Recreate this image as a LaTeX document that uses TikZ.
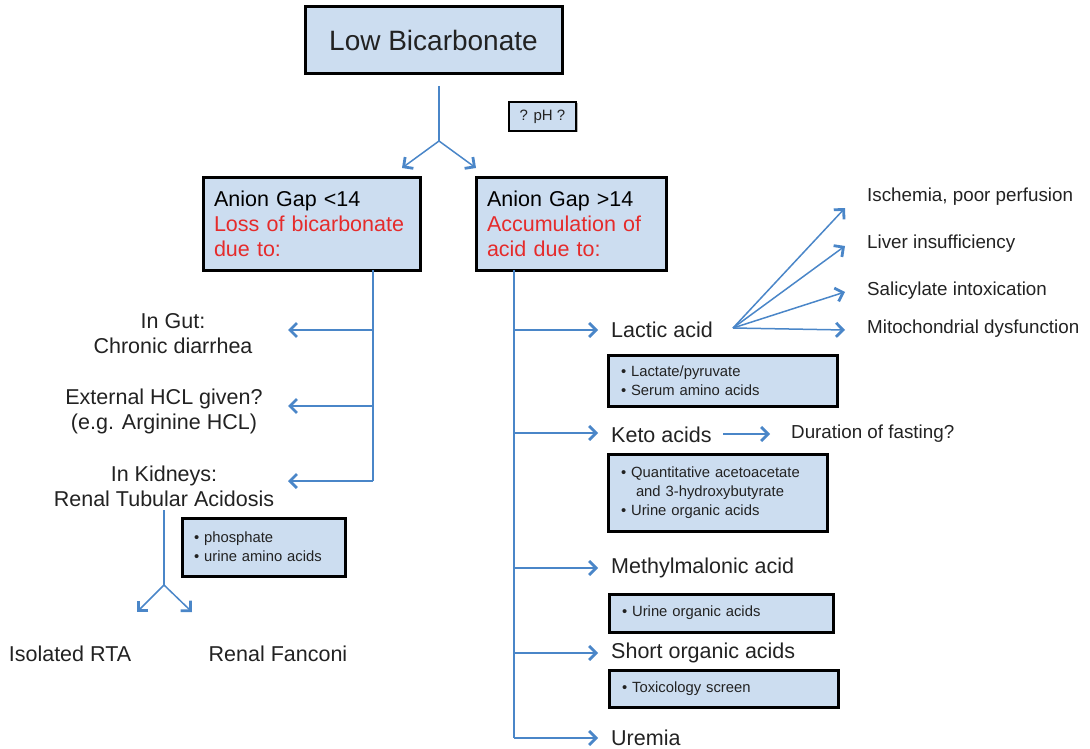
\documentclass[tikz,border=0pt]{standalone}
\usepackage{fontspec}
\setmainfont{Liberation Sans}
\usetikzlibrary{arrows.meta,shadows}
\definecolor{fillb}{HTML}{CCDDF0}
\definecolor{lnb}{HTML}{4A86C8}
\definecolor{txt}{HTML}{222222}
\definecolor{redt}{HTML}{E52B2B}
\newcommand{\fsz}[2]{\fontsize{#1}{#2}\selectfont}
\begin{document}
\begin{tikzpicture}[x=1pt,y=-1pt,
  box/.style={draw=black,line width=3pt,fill=fillb,inner sep=0pt,
    drop shadow={shadow xshift=1.5pt,shadow yshift=-1.5pt,opacity=0.3,fill=black}},
  lbl/.style={text=txt,inner sep=0pt,font=\fsz{21.5}{25}},
  rlbl/.style={text=txt,inner sep=0pt,anchor=west,font=\fsz{18.8}{22}},
  small/.style={text=txt,font=\fsz{14.8}{19},align=left},
  conn/.style={draw=lnb,line width=1.5pt},
  arr/.style={conn,-{Straight Barb[length=7pt,width=14pt,line width=2.8pt]}}
]
\useasboundingbox (0,0) rectangle (1090,749);

% ---------- boxes ----------
\node[box,minimum width=257pt,minimum height=67pt,font=\fsz{28}{32},text=txt] (low) at (433.5,40.5) {Low Bicarbonate};
\node[box,line width=2.2pt,minimum width=67pt,minimum height=29pt,font=\fsz{15}{18},text=txt] (ph) at (542.5,116.5) {? pH ?};

\node[box,minimum width=217pt,minimum height=92pt,text width=195pt,align=left,font=\fsz{21.5}{25}] (ag1) at (311.5,224)
  {Anion Gap <14\\\textcolor{redt}{Loss of bicarbonate}\\\textcolor{redt}{due to:}};
\node[box,minimum width=190pt,minimum height=92pt,text width=168pt,align=left,font=\fsz{21.5}{25}] (ag2) at (571,224)
  {Anion Gap >14\\\textcolor{redt}{Accumulation of}\\\textcolor{redt}{acid due to:}};

\node[box,minimum width=163pt,minimum height=58pt,text width=139pt,small] (phos) at (263.5,547)
  {• phosphate\\• urine amino acids};
\node[box,minimum width=229pt,minimum height=51pt,text width=203pt,small] (lact) at (722.5,380.5)
  {• Lactate/pyruvate\\• Serum amino acids};
\node[box,minimum width=219pt,minimum height=77pt,text width=193pt,small] (keto) at (717.5,492.5)
  {• Quantitative acetoacetate\\\hspace*{15pt}and 3-hydroxybutyrate\\• Urine organic acids};
\node[box,minimum width=224pt,minimum height=38pt,text width=198pt,small] (uoa) at (721,613)
  {• Urine organic acids};
\node[box,minimum width=229pt,minimum height=37pt,text width=203pt,small] (tox) at (723.5,688.5)
  {• Toxicology screen};

% ---------- left column labels ----------
\node[lbl,align=center] (gut) at (173,334) {In Gut:\\Chronic diarrhea};
\node[lbl,align=center] (hcl) at (164,411) {External HCL given?\\(e.g. Arginine HCL)};
\node[lbl,align=center] (kid) at (164,486) {In Kidneys:\\Renal Tubular Acidosis};
\node[lbl] (rta) at (70,654) {Isolated RTA};
\node[lbl] (fan) at (278,654) {Renal Fanconi};

% ---------- right column labels ----------
\node[lbl,anchor=west] (lactic) at (611,330) {Lactic acid};
\node[lbl,anchor=west] (ketoa) at (611,435) {Keto acids};
\node[lbl,anchor=west] (mma) at (611,568) {Methylmalonic acid};
\node[lbl,anchor=west] (soa) at (611,653) {Short organic acids};
\node[lbl,anchor=west] (urem) at (611,738) {Uremia};

\node[rlbl] (isch) at (867,197) {Ischemia, poor perfusion};
\node[rlbl] (liver) at (867,244) {Liver insufficiency};
\node[rlbl] (sal) at (867,291) {Salicylate intoxication};
\node[rlbl] (mito) at (867,329) {Mitochondrial dysfunction};
\node[rlbl] (fast) at (791,434) {Duration of fasting?};

% ---------- coordinates ----------
\coordinate (topA) at (439,86);
\coordinate (topB) at (439,141);
\coordinate (tipL) at (402,168);
\coordinate (tipR) at (476,168);

\coordinate (lv0) at (373,270);
\coordinate (lv1) at (373,330);
\coordinate (lv2) at (373,406);
\coordinate (lv3) at (373,481);
\coordinate (gutT) at (288,330);
\coordinate (hclT) at (288,406);
\coordinate (kidT) at (288,481);

\coordinate (kA) at (164,510);
\coordinate (kB) at (164,585);
\coordinate (kL) at (137,612);
\coordinate (kR) at (192,612);

\coordinate (rv0) at (514,270);
\coordinate (rv1) at (514,330);
\coordinate (rv2) at (514,433);
\coordinate (rv3) at (514,568);
\coordinate (rv4) at (514,653);
\coordinate (rv5) at (514,738);
\coordinate (t1) at (598,330);
\coordinate (t2) at (598,433);
\coordinate (t3) at (598,568);
\coordinate (t4) at (598,653);
\coordinate (t5) at (598,738);

\coordinate (fan0) at (733,328);
\coordinate (f1) at (845,208);
\coordinate (f2) at (845,246);
\coordinate (f3) at (845,292);
\coordinate (f4) at (845,330);

\coordinate (kt0) at (723,434);
\coordinate (kt1) at (770,434);

% ---------- connectors ----------
\draw[conn] (topA) -- (topB);
\draw[arr] (topB) -- (tipL);
\draw[arr] (topB) -- (tipR);

\draw[conn] (lv0) -- (lv3);
\draw[arr] (lv1) -- (gutT);
\draw[arr] (lv2) -- (hclT);
\draw[arr] (lv3) -- (kidT);

\draw[conn] (kA) -- (kB);
\draw[arr] (kB) -- (kL);
\draw[arr] (kB) -- (kR);

\draw[conn] (rv0) -- (rv5);
\draw[arr] (rv1) -- (t1);
\draw[arr] (rv2) -- (t2);
\draw[arr] (rv3) -- (t3);
\draw[arr] (rv4) -- (t4);
\draw[arr] (rv5) -- (t5);

\draw[arr] (fan0) -- (f1);
\draw[arr] (fan0) -- (f2);
\draw[arr] (fan0) -- (f3);
\draw[arr] (fan0) -- (f4);

\draw[arr] (kt0) -- (kt1);
\end{tikzpicture}
\end{document}
